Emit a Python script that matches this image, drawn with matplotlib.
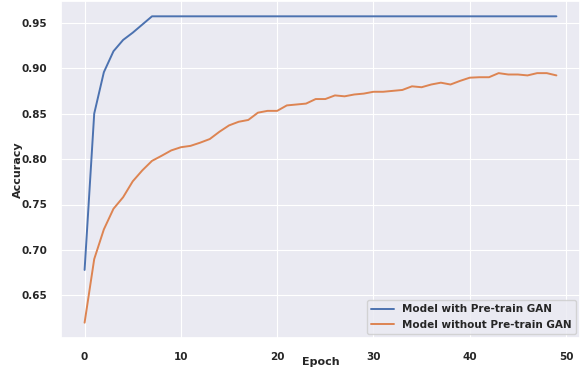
import matplotlib
matplotlib.use('Agg')
import matplotlib.pyplot as plt
import seaborn as sns
import numpy as np

# accuracy per epoch
epochs = list(range(50))
acc_pretrain = [0.678, 0.850, 0.8955, 0.9186, 0.931, 0.939, 0.948, 0.957] + [0.957] * 42
acc_no_pretrain = [
    0.620, 0.690, 0.7226, 0.7453, 0.758, 0.7755, 0.7876, 0.798, 0.8036, 0.8095,
    0.813, 0.8145, 0.818, 0.822, 0.830, 0.837, 0.841, 0.843, 0.851, 0.853,
    0.853, 0.859, 0.860, 0.861, 0.866, 0.866, 0.870, 0.869, 0.871, 0.872,
    0.874, 0.874, 0.875, 0.876, 0.880, 0.879, 0.882, 0.884, 0.882, 0.886,
    0.8895, 0.890, 0.890, 0.8945, 0.893, 0.893, 0.892, 0.8945, 0.8945, 0.892,
]
labels = ['Model with Pre-train GAN', 'Model without Pre-train GAN']

sns.set_theme(style='darkgrid', rc={'grid.linewidth': 0.8})
plt.rcParams['font.family'] = ['DejaVu Sans']
plt.rcParams['font.weight'] = 'bold'

fig, ax = plt.subplots(figsize=(5.83, 3.75), dpi=100)
fig.subplots_adjust(left=61/583, right=580/583, top=1 - 1/375, bottom=1 - 338/375)

ax.plot(epochs, acc_pretrain, label=labels[0], linewidth=1.4)
ax.plot(epochs, acc_no_pretrain, label=labels[1], linewidth=1.4)

ax.set_xlabel('Epoch', fontsize=8, fontweight='bold')
ax.set_ylabel('Accuracy', fontsize=8, fontweight='bold')
ax.xaxis.set_label_coords(0.5, -0.055)
ax.yaxis.set_label_coords(-0.074, 0.5)
ax.set_xticks([0, 10, 20, 30, 40, 50])
ax.set_yticks([0.65, 0.70, 0.75, 0.80, 0.85, 0.90, 0.95])
ax.tick_params(labelsize=7.5, pad=4)
for lbl in ax.get_xticklabels() + ax.get_yticklabels():
    lbl.set_fontweight('bold')

leg = ax.legend(loc='lower right', prop={'size': 7.5, 'weight': 'bold'},
                borderaxespad=0.4, handlelength=2.2)

plt.savefig('out.png', dpi=100)
